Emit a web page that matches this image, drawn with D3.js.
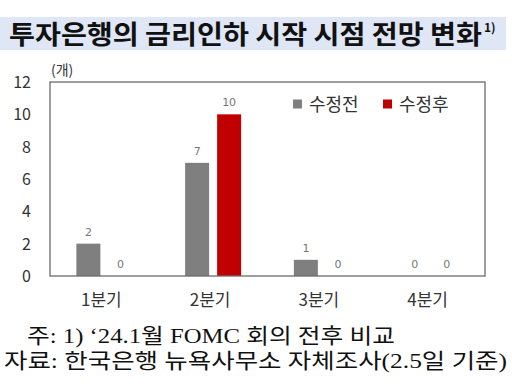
<!DOCTYPE html>
<html>
<head>
<meta charset="utf-8">
<script src="https://cdn.jsdelivr.net/npm/d3@7"></script>
<style>
  body { margin: 0; background: #fff; }
  svg { display: block; }
</style>
</head>
<body>
<svg width="512" height="384"></svg>
<script>
  // chart data
  var categories = ["1분기", "2분기", "3분기", "4분기"];
  var seriesNames = ["수정전", "수정후"];
  var before = [2, 7, 1, 0];
  var after = [0, 10, 0, 0];
  var yTicks = [0, 2, 4, 6, 8, 10, 12];
  var colors = ["#7f7f7f", "#c00000"];

(function() {
  var svg = d3.select("svg");
  var kr = "'Noto Sans CJK KR', 'Noto Sans', sans-serif";

  var plotL = 50, plotR = 485, plotT = 82, plotB = 276;

  // title band
  svg.append("rect")
      .attr("x", 0).attr("y", 17)
      .attr("width", 506).attr("height", 33)
      .attr("fill", "#dfe6f6");

  svg.append("text")
      .attr("x", 9).attr("y", 44)
      .attr("font-family", kr)
      .attr("font-weight", "bold")
      .attr("font-size", 26)
      .attr("fill", "#111")
      .attr("textLength", 473)
      .attr("lengthAdjust", "spacingAndGlyphs")
      .text("투자은행의 금리인하 시작 시점 전망 변화");
  svg.append("text")
      .attr("x", 484).attr("y", 32)
      .attr("font-family", kr)
      .attr("font-weight", "bold")
      .attr("font-size", 12)
      .attr("fill", "#111")
      .text("1)");

  var x0 = d3.scaleBand()
      .domain(categories)
      .range([plotL, plotR]);

  var x1 = d3.scaleBand()
      .domain(seriesNames)
      .range([0, 56])
      .paddingInner(0.25);

  var y = d3.scaleLinear()
      .domain([0, 12])
      .range([plotB, plotT]);

  // y axis labels
  svg.append("g")
    .selectAll("text")
    .data(yTicks)
    .enter().append("text")
      .attr("x", 31)
      .attr("y", function(d) { return y(d) + 6; })
      .attr("text-anchor", "end")
      .attr("font-family", kr)
      .attr("font-size", 16)
      .attr("fill", "#333")
      .text(function(d) { return d; });

  svg.append("text")
      .attr("x", 51).attr("y", 75)
      .attr("font-family", kr)
      .attr("font-size", 14)
      .attr("fill", "#333")
      .text("(개)");

  // bars
  var rows = categories.map(function(c, i) {
    return [
      { cat: c, s: seriesNames[0], v: before[i], k: 0 },
      { cat: c, s: seriesNames[1], v: after[i], k: 1 }
    ];
  });

  var groups = svg.append("g")
    .selectAll("g")
    .data(rows)
    .enter().append("g")
      .attr("transform", function(d) {
        return "translate(" + (x0(d[0].cat) + x0.bandwidth() / 2 - 28) + ",0)";
      });

  groups.selectAll("rect")
    .data(function(d) { return d; })
    .enter().append("rect")
      .attr("x", function(d) { return x1(d.s); })
      .attr("y", function(d) { return y(d.v); })
      .attr("width", x1.bandwidth())
      .attr("height", function(d) { return y(0) - y(d.v); })
      .attr("fill", function(d) { return colors[d.k]; });

  groups.selectAll("text")
    .data(function(d) { return d; })
    .enter().append("text")
      .attr("x", function(d) { return x1(d.s) + x1.bandwidth() / 2; })
      .attr("y", function(d) { return y(d.v) - 8; })
      .attr("text-anchor", "middle")
      .attr("font-family", "'DejaVu Sans', sans-serif")
      .attr("font-size", 11)
      .attr("fill", "#777")
      .text(function(d) { return d.v; });

  // frame
  svg.append("rect")
      .attr("x", plotL).attr("y", plotT)
      .attr("width", plotR - plotL).attr("height", plotB - plotT)
      .attr("fill", "none")
      .attr("stroke", "#6b6b6b")
      .attr("stroke-width", 1.3);

  // x labels
  svg.append("g")
    .selectAll("text")
    .data(categories)
    .enter().append("text")
      .attr("x", function(d) { return x0(d) + x0.bandwidth() / 2 - 3; })
      .attr("y", 306)
      .attr("text-anchor", "middle")
      .attr("font-family", kr)
      .attr("font-size", 17)
      .attr("fill", "#333")
      .text(function(d) { return d; });

  // legend
  var legend = svg.append("g")
    .selectAll("g")
    .data(seriesNames)
    .enter().append("g")
      .attr("transform", function(d, i) { return "translate(" + (293 + i * 90) + ",104)"; });

  legend.append("rect")
      .attr("x", 0).attr("y", -4.5)
      .attr("width", 9).attr("height", 9)
      .attr("fill", function(d, i) { return colors[i]; });

  legend.append("text")
      .attr("x", 16).attr("y", 6.5)
      .attr("font-family", kr)
      .attr("font-size", 18)
      .attr("fill", "#333")
      .text(function(d) { return d; });

  // notes
  var noteFont = "'Liberation Serif', 'Noto Sans CJK KR', serif";
  svg.append("text")
      .attr("x", 27).attr("y", 343)
      .attr("font-family", noteFont)
      .attr("font-size", 21)
      .attr("fill", "#111")
      .attr("textLength", 368)
      .attr("lengthAdjust", "spacingAndGlyphs")
      .text("주: 1) ‘24.1월 FOMC 회의 전후 비교");
  svg.append("text")
      .attr("x", 4).attr("y", 368)
      .attr("font-family", noteFont)
      .attr("font-size", 21)
      .attr("fill", "#111")
      .attr("textLength", 503)
      .attr("lengthAdjust", "spacingAndGlyphs")
      .text("자료: 한국은행 뉴욕사무소 자체조사(2.5일 기준)");
})();
</script>
</body>
</html>
